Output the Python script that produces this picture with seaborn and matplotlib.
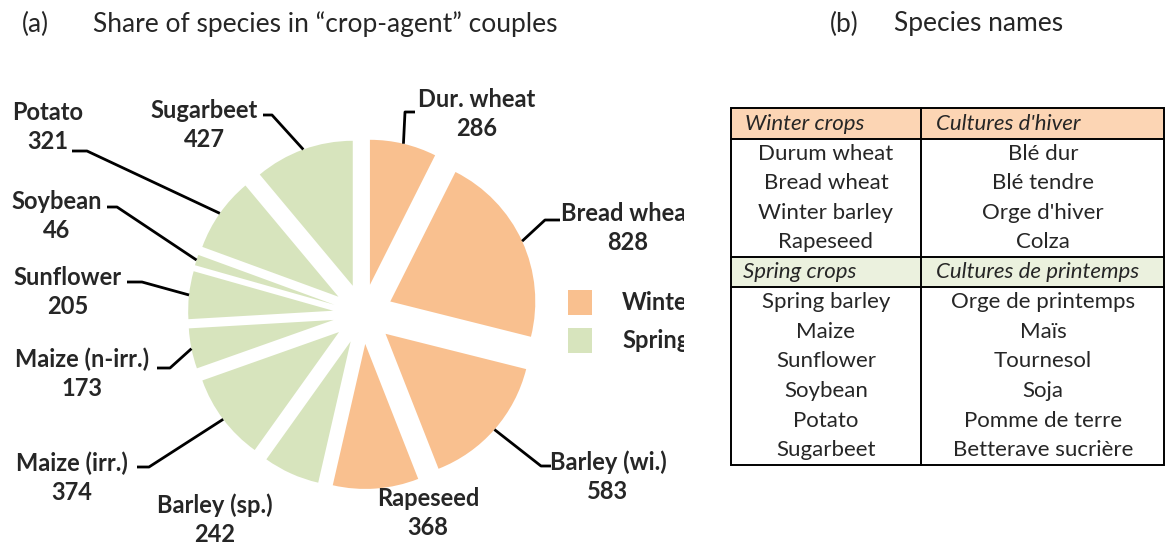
import numpy as np
import matplotlib.pyplot as plt
from matplotlib.patches import Rectangle
import seaborn as sns

sns.set_theme(style="white")
plt.rcParams['font.family'] = ['Lato', 'DejaVu Sans']

#%% data
species = ['Dur. wheat', 'Bread wheat', 'Barley (wi.)', 'Rapeseed', 'Barley (sp.)',
           'Maize (irr.)', 'Maize (n-irr.)', 'Sunflower', 'Soybean', 'Potato', 'Sugarbeet']
couples = [286, 828, 583, 368, 242, 374, 173, 205, 46, 321, 427]
season = ['Winter'] * 4 + ['Spring'] * 7

winter_en = ['Durum wheat', 'Bread wheat', 'Winter barley', 'Rapeseed']
winter_fr = ['Blé dur', 'Blé tendre', "Orge d'hiver", 'Colza']
spring_en = ['Spring barley', 'Maize', 'Sunflower', 'Soybean', 'Potato', 'Sugarbeet']
spring_fr = ['Orge de printemps', 'Maïs', 'Tournesol', 'Soja', 'Pomme de terre', 'Betterave sucrière']

pal = {'Winter': '#F9C08F', 'Spring': '#D7E4BD'}
head_col = {'Winter': '#FCD5B4', 'Spring': '#EBF1DE'}

#%% layout (pixels, from top-left)
W, H = 1168, 546
label_pos = [(477, 114), (628, 228), (608, 477), (428, 513), (215, 520),
             (72, 478), (82, 374), (68, 292), (57, 216), (48, 127), (204, 125)]
leader = [[(405, 112), (415, 112)], [(545, 220), (560, 220)], [(541, 466), (551, 466)],
          None, None,
          [(149, 467), (137, 467)], [(170, 368), (157, 368)], [(142, 282), (127, 282)],
          [(117, 207), (107, 207)], [(87, 151), (72, 151)], [(272, 115), (263, 115)]]

fig = plt.figure(figsize=(W / 100, H / 100), dpi=100)
ax = fig.add_axes([0, 0, 684 / W, 1])
wedges, _ = ax.pie(couples, colors=[pal[s] for s in season], startangle=90,
                   counterclock=False, radius=145, center=(363, H - 314),
                   explode=[30] * len(couples), wedgeprops=dict(linewidth=0))
ax.set_xlim(0, 684)
ax.set_ylim(0, H)
ax.set_aspect('equal')
ax.axis('off')

for w, name, val, (lx, ly), ld in zip(wedges, species, couples, label_pos, leader):
    ax.text(lx, H - ly, f'{name}\n{val}', ha='center', va='center', fontsize=17,
            fontweight='bold', linespacing=1.3, clip_on=True)
    if ld is None:
        continue
    thm = np.radians((w.theta1 + w.theta2) / 2)
    px = [w.center[0] + w.r * np.cos(thm)] + [p[0] for p in ld]
    py = [w.center[1] + w.r * np.sin(thm)] + [H - p[1] for p in ld]
    ax.plot(px, py, color='black', lw=2.0, solid_capstyle='butt')

# legend
for i, s in enumerate(['Winter', 'Spring']):
    y0 = 290 + i * 38
    ax.add_patch(Rectangle((568, H - y0 - 25), 24, 25, fc=pal[s], lw=0))
    ax.text(622, H - y0 - 12, s, va='center', fontsize=17, fontweight='bold', clip_on=True)

fig.text(22 / W, 1 - 24 / H, '(a)', va='center', fontsize=19)
fig.text(93 / W, 1 - 24 / H, 'Share of species in \u201ccrop-agent\u201d couples', va='center', fontsize=19)
fig.text(830 / W, 1 - 24 / H, '(b)', va='center', fontsize=19)
fig.text(894 / W, 1 - 24 / H, 'Species names', va='center', fontsize=19)

#%% table
tax = fig.add_axes([684 / W, 0, 1 - 684 / W, 1])
tax.set_xlim(684, W)
tax.set_ylim(H, 0)
tax.axis('off')

x0, x1, xm = 731, 1164, 921
tax.add_patch(Rectangle((x0, 108), x1 - x0, 31, fc=head_col['Winter'], lw=0))
tax.add_patch(Rectangle((x0, 257), x1 - x0, 30, fc=head_col['Spring'], lw=0))
tax.add_patch(Rectangle((x0, 108), x1 - x0, 465 - 108, fill=False, ec='black', lw=1.4))
for yy in [139, 257, 287]:
    tax.plot([x0, x1], [yy, yy], color='black', lw=1.4)
tax.plot([xm, xm], [108, 465], color='black', lw=1.4)

tax.text(745, 124, 'Winter crops', style='italic', va='center', fontsize=16)
tax.text(936, 124, "Cultures d'hiver", style='italic', va='center', fontsize=16)
tax.text(743, 272, 'Spring crops', style='italic', va='center', fontsize=16)
tax.text(936, 272, 'Cultures de printemps', style='italic', va='center', fontsize=16)

for i, (en, fr) in enumerate(zip(winter_en, winter_fr)):
    yy = 139 + (i + 0.5) * 29.5
    tax.text(826, yy, en, ha='center', va='center', fontsize=16)
    tax.text(1043, yy, fr, ha='center', va='center', fontsize=16)
for i, (en, fr) in enumerate(zip(spring_en, spring_fr)):
    yy = 287 + (i + 0.5) * 29.67
    tax.text(826, yy, en, ha='center', va='center', fontsize=16)
    tax.text(1043, yy, fr, ha='center', va='center', fontsize=16)

fig.savefig('out.png', dpi=100)
